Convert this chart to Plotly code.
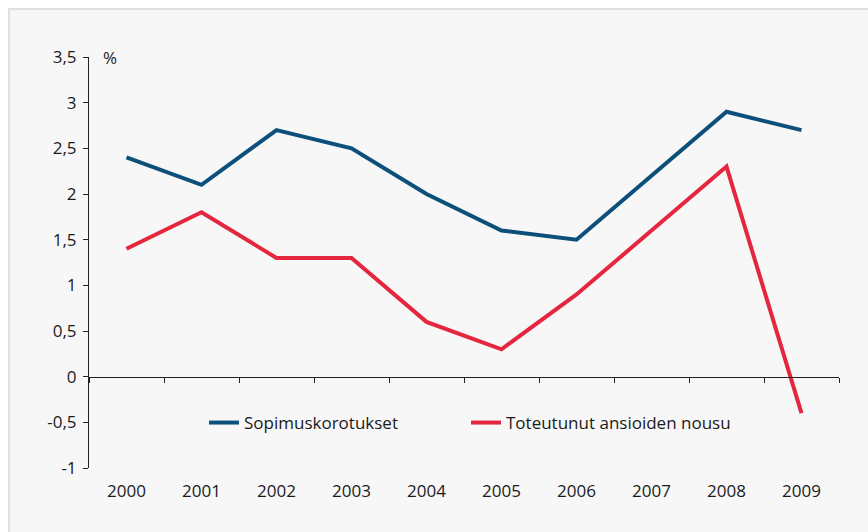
import plotly.graph_objects as go

years = ["2000", "2001", "2002", "2003", "2004", "2005", "2006", "2007", "2008", "2009"]
sopimus = [2.4, 2.1, 2.7, 2.5, 2.0, 1.6, 1.5, 2.2, 2.9, 2.7]
toteutunut = [1.4, 1.8, 1.3, 1.3, 0.6, 0.3, 0.9, 1.6, 2.3, -0.4]
ytickvals = [-1, -0.5, 0, 0.5, 1, 1.5, 2, 2.5, 3, 3.5]
yticktext = ["-1", "-0,5", "0", "0,5", "1", "1,5", "2", "2,5", "3", "3,5"]
names = ["Sopimuskorotukset", "Toteutunut ansioiden nousu"]

FONT = "Open Sans, sans-serif"
BLUE = "#0c4f7b"
RED = "#e4263f"

W, H = 868, 532
L, R, T, B = 89, 29, 57, 64
pw, ph = W - L - R, H - T - B

fig = go.Figure()
fig.add_trace(go.Scatter(x=years, y=sopimus, mode="lines", name=names[0],
                         line=dict(color=BLUE, width=4), hoverinfo="skip",
                         legend="legend"))
fig.add_trace(go.Scatter(x=years, y=toteutunut, mode="lines", name=names[1],
                         line=dict(color=RED, width=4), hoverinfo="skip",
                         legend="legend2"))
# invisible trace to host the zero-line axis
fig.add_trace(go.Scatter(x=years, y=[None] * len(years), xaxis="x2", yaxis="y",
                         showlegend=False, hoverinfo="skip"))

leg_y = (468 - 423) / ph
legend_common = dict(orientation="h", y=leg_y, xanchor="left", yanchor="middle",
                     bgcolor="rgba(0,0,0,0)", font=dict(size=17), borderwidth=0)

fig.update_layout(
    width=W, height=H,
    margin=dict(l=L, r=R, t=T, b=B),
    paper_bgcolor="white",
    plot_bgcolor="rgba(0,0,0,0)",
    separators=", ",
    font=dict(family=FONT, size=17, color="#1a1a1a"),
    xaxis=dict(type="category", range=[-0.5, 9.5], showline=False, ticks="",
               showgrid=False, zeroline=False, ticklabelstandoff=11,
               tickfont=dict(size=17)),
    xaxis2=dict(type="category", overlaying="x", matches="x", anchor="free",
                position=1 / 4.5, showline=True, linecolor="#222", linewidth=1,
                ticks="outside", ticklen=5, tickcolor="#222", tickson="boundaries",
                showticklabels=False, showgrid=False, zeroline=False),
    yaxis=dict(range=[-1, 3.5], tickvals=ytickvals, ticktext=yticktext,
               showline=True, linecolor="#222", linewidth=1, ticks="outside",
               ticklen=5, tickcolor="#222", showgrid=False, zeroline=False,
               ticklabelstandoff=3, tickfont=dict(size=17)),
    legend=dict(x=(204 - L) / pw, **legend_common),
    legend2=dict(x=(466 - L) / pw, **legend_common),
    shapes=[dict(type="rect", xref="paper", yref="paper",
                 x0=(9 - L) / pw, x1=1.2, y0=-0.3, y1=(468 - 9) / ph,
                 fillcolor="#f7f7f7", line=dict(color="#e0e0e0", width=2),
                 layer="below")],
    annotations=[dict(text="%", xref="paper", yref="paper", x=(110 - L) / pw, y=1,
                      xanchor="center", yanchor="middle", showarrow=False,
                      font=dict(size=17))],
)

fig.write_html("out.html", config={"displayModeBar": False},
               post_script="document.body.style.margin='0';")
